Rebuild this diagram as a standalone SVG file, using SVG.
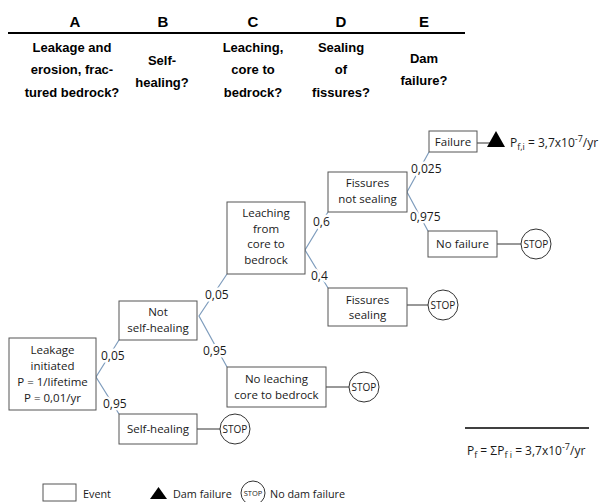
<svg xmlns="http://www.w3.org/2000/svg" width="609" height="502" viewBox="0 0 609 502">
<style>
.h{font-family:"Liberation Sans",Arial,sans-serif;font-weight:bold;font-size:13px;fill:#000;text-anchor:middle}
.hl{font-family:"Liberation Sans",Arial,sans-serif;font-weight:bold;font-size:15px;fill:#000;text-anchor:middle}
.t{font-family:"Open Sans","Liberation Sans",sans-serif;font-size:11.5px;fill:#1a1a1a;text-anchor:middle}
.l{font-family:"Open Sans","Liberation Sans",sans-serif;font-size:12px;fill:#1a1a1a}
.p{font-family:"Open Sans","Liberation Sans",sans-serif;font-size:12px;fill:#1a1a1a;stroke:#fff;stroke-width:5;paint-order:stroke;stroke-linejoin:round}
.g{font-family:"Open Sans","Liberation Sans",sans-serif;font-size:10.8px;fill:#1a1a1a}
.s{font-family:"Open Sans","Liberation Sans",sans-serif;font-size:10px;fill:#1a1a1a;text-anchor:middle}
.ss{font-family:"Open Sans","Liberation Sans",sans-serif;font-size:7.5px;fill:#1a1a1a;text-anchor:middle}
.box{fill:#fff;stroke:#555;stroke-width:1}
.br{stroke:#7f9dbd;stroke-width:1.2;fill:none}
.cn{stroke:#333;stroke-width:1;fill:none}
.stop{fill:#fff;stroke:#333;stroke-width:1}
</style>
<rect width="609" height="502" fill="#fff"/>
<g id="header">
<line x1="8" y1="33" x2="465" y2="33" stroke="#000" stroke-width="2"/>
<text class="hl" x="75" y="27">A</text>
<text class="hl" x="163" y="27">B</text>
<text class="hl" x="253" y="27">C</text>
<text class="hl" x="341" y="27">D</text>
<text class="hl" x="424" y="27">E</text>
<text class="h" x="72" y="52">Leakage and</text>
<text class="h" x="72" y="74">erosion, frac-</text>
<text class="h" x="72" y="97">tured bedrock?</text>
<text class="h" x="162" y="65">Self-</text>
<text class="h" x="162" y="87">healing?</text>
<text class="h" x="253" y="52">Leaching,</text>
<text class="h" x="253" y="74">core to</text>
<text class="h" x="253" y="97">bedrock?</text>
<text class="h" x="341" y="52">Sealing</text>
<text class="h" x="341" y="74">of</text>
<text class="h" x="341" y="97">fissures?</text>
<text class="h" x="424" y="63">Dam</text>
<text class="h" x="424" y="85">failure?</text>
</g>
<g id="connectors">
<polyline class="br" points="119,340 96,377 119,414"/>
<polyline class="br" points="227,274 199,316 227,367"/>
<polyline class="br" points="328,212 305,250 328,288"/>
<polyline class="br" points="429,152 407,192 428,231"/>
<line class="cn" x1="197" y1="429" x2="220" y2="429"/>
<line class="cn" x1="326" y1="387" x2="349" y2="387"/>
<line class="cn" x1="407" y1="305" x2="428" y2="305"/>
<line class="cn" x1="497" y1="244" x2="521" y2="244"/>
<line class="cn" x1="477" y1="143" x2="490" y2="143"/>
<text class="p" x="101" y="360">0,05</text>
<text class="p" x="103" y="408">0,95</text>
<text class="p" x="205" y="299">0,05</text>
<text class="p" x="203" y="355">0,95</text>
<text class="p" x="313" y="226">0,6</text>
<text class="p" x="311" y="280">0,4</text>
<text class="p" x="411" y="173">0,025</text>
<text class="p" x="410" y="221">0,975</text>
</g>
<g id="n-leakage">
<rect class="box" x="9" y="338" width="87" height="72"/>
<text class="t" x="52.5" y="354">Leakage</text>
<text class="t" x="52.5" y="369.5">initiated</text>
<text class="t" x="52.5" y="386">P = 1/lifetime</text>
<text class="t" x="52.5" y="401.5">P = 0,01/yr</text>
</g>
<g id="n-notself">
<rect class="box" x="119" y="301" width="78" height="39"/>
<text class="t" x="158" y="316">Not</text>
<text class="t" x="158" y="332">self-healing</text>
</g>
<g id="n-self">
<rect class="box" x="119" y="414" width="78" height="30"/>
<text class="t" x="158" y="433">Self-healing</text>
</g>
<g id="stop1">
<circle class="stop" cx="235" cy="429" r="15"/>
<text class="s" x="235" y="432.5">STOP</text>
</g>
<g id="n-noleach">
<rect class="box" x="227" y="367" width="99" height="40"/>
<text class="t" x="276.5" y="383">No leaching</text>
<text class="t" x="276.5" y="398.5">core to bedrock</text>
</g>
<g id="stop2">
<circle class="stop" cx="364" cy="387" r="15"/>
<text class="s" x="364" y="390.5">STOP</text>
</g>
<g id="n-leach">
<rect class="box" x="227" y="202" width="78" height="72"/>
<text class="t" x="266" y="217">Leaching</text>
<text class="t" x="266" y="232.5">from</text>
<text class="t" x="266" y="248">core to</text>
<text class="t" x="266" y="263.5">bedrock</text>
</g>
<g id="n-fnot">
<rect class="box" x="328" y="172" width="79" height="40"/>
<text class="t" x="367.5" y="187">Fissures</text>
<text class="t" x="367.5" y="203">not sealing</text>
</g>
<g id="n-fseal">
<rect class="box" x="328" y="288" width="79" height="38"/>
<text class="t" x="367.5" y="303.5">Fissures</text>
<text class="t" x="367.5" y="319">sealing</text>
</g>
<g id="stop3">
<circle class="stop" cx="443" cy="305" r="15"/>
<text class="s" x="443" y="308.5">STOP</text>
</g>
<g id="n-nofail">
<rect class="box" x="428" y="231" width="69" height="26"/>
<text class="t" x="462.5" y="248">No failure</text>
</g>
<g id="stop4">
<circle class="stop" cx="536" cy="244" r="15"/>
<text class="s" x="536" y="247.5">STOP</text>
</g>
<g id="n-fail">
<rect class="box" x="429" y="131" width="48" height="21"/>
<text class="t" x="453" y="146">Failure</text>
</g>
<g id="dam1">
<polygon points="496,131 505,147 487,147" fill="#000"/>
<text class="l" x="510" y="147">P<tspan font-size="9" dy="3">f,i</tspan><tspan dy="-3"> = 3,7x10</tspan><tspan font-size="9" dy="-5">-7</tspan><tspan dy="5">/yr</tspan></text>
</g>
<g id="total">
<line x1="465" y1="428" x2="589" y2="428" stroke="#000" stroke-width="1.5"/>
<text class="l" x="467" y="455">P<tspan font-size="9" dy="3">f</tspan><tspan dy="-3"> = ΣP</tspan><tspan font-size="9" dy="3">f i</tspan><tspan dy="-3"> = 3,7x10</tspan><tspan font-size="9" dy="-5">-7</tspan><tspan dy="5">/yr</tspan></text>
</g>
<g id="legend">
<rect class="box" x="43" y="484" width="33" height="17"/>
<text class="g" x="83" y="498">Event</text>
<polygon points="158.5,487 167,499 150,499" fill="#000"/>
<text class="g" x="173" y="498">Dam failure</text>
<circle class="stop" cx="253" cy="493" r="12"/>
<text class="ss" x="253" y="495.5">STOP</text>
<text class="g" x="270" y="498">No dam failure</text>
</g>
</svg>
